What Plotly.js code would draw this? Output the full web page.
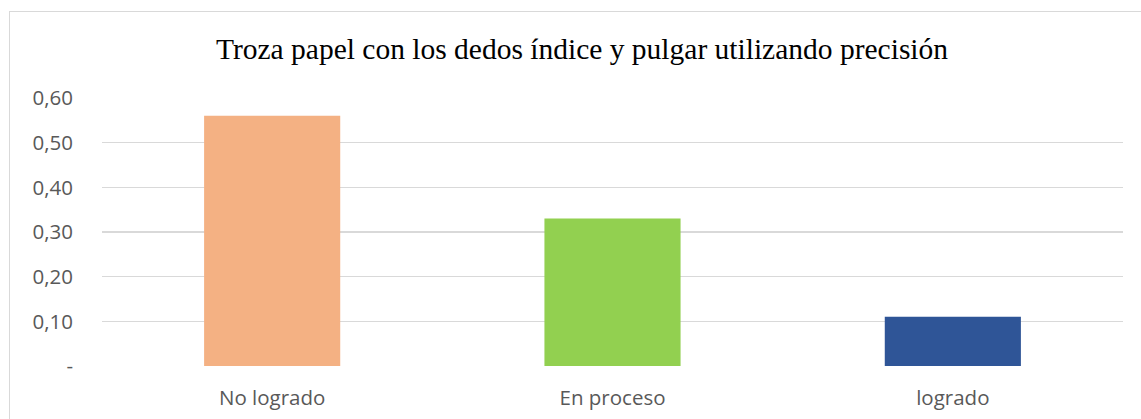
<!DOCTYPE html>
<html>
<head>
<meta charset="utf-8">
<script src="https://cdn.plot.ly/plotly-3.0.1.min.js"></script>
<style>
html,body{margin:0;padding:0;background:#fff;}
#wrap{position:relative;width:1141px;height:419px;overflow:hidden;}
#chart{width:1141px;height:419px;}
#frame{position:absolute;left:9px;top:11px;width:1160px;height:440px;border:1px solid #d9d9d9;pointer-events:none;box-sizing:border-box;}
</style>
</head>
<body>
<div id="wrap"><div id="chart"></div><div id="frame"></div></div>
<script>
const categories = ["No logrado", "En proceso", "logrado"];
const values = [0.56, 0.33, 0.11];
const barColors = ["#F4B183", "#92D050", "#2F5597"];
const yTickVals = [0, 0.1, 0.2, 0.3, 0.4, 0.5, 0.6];
const yTickText = ["-", "0,10", "0,20", "0,30", "0,40", "0,50", "0,60"];
const titleText = "Troza papel con los dedos índice y pulgar utilizando precisión";

const trace = {
  type: "bar",
  x: categories,
  y: values,
  marker: {color: barColors},
  hoverinfo: "none"
};

const layout = {
  width: 1141, height: 419,
  margin: {l: 102, r: 18, t: 98, b: 53},
  paper_bgcolor: "#ffffff",
  plot_bgcolor: "#ffffff",
  showlegend: false,
  bargap: 0.6,
  title: {
    text: titleText,
    font: {family: "Liberation Serif, Times New Roman, serif", size: 29.5, color: "#000000"},
    x: 582 / 1141, xanchor: "center", xref: "container",
    y: 1 - 49 / 419, yref: "container", yanchor: "middle"
  },
  xaxis: {
    type: "category",
    showgrid: false,
    zeroline: false,
    showline: false,
    ticks: "",
    ticklabelstandoff: 17,
    tickfont: {family: "Open Sans, sans-serif", size: 20.5, color: "#595959"}
  },
  yaxis: {
    range: [0, 0.6],
    tickvals: yTickVals,
    ticktext: yTickText,
    showgrid: true,
    gridcolor: "#d9d9d9",
    gridwidth: 1.3,
    zeroline: false,
    showline: false,
    ticks: "",
    ticklabelstandoff: 28,
    tickfont: {family: "Open Sans, sans-serif", size: 20.5, color: "#595959"}
  }
};

Plotly.newPlot("chart", [trace], layout, {displayModeBar: false, staticPlot: true});
</script>
</body>
</html>
